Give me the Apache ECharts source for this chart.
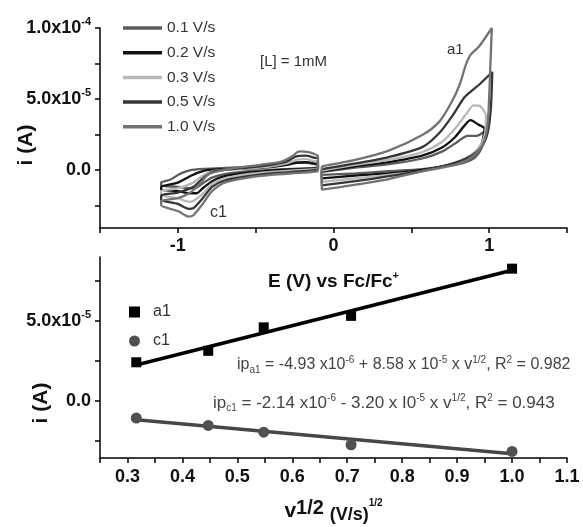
<!DOCTYPE html>
<html><head><meta charset="utf-8">
<script src="https://cdn.jsdelivr.net/npm/echarts@6/dist/echarts.min.js"></script>
<style>html,body{margin:0;padding:0;background:#fff}#c{width:583px;height:527px}</style>
</head><body><div id="c"></div>
<script>
// ---- Top panel: cyclic voltammograms, E (V) vs current (units of 1e-5 A) ----
const scanRates = ['0.1 V/s', '0.2 V/s', '0.3 V/s', '0.5 V/s', '1.0 V/s'];
const cv01Left = [[-0.1,0.15],[-0.2,0.1],[-0.4,0.0],[-0.55,-0.1],[-0.7,-0.3],[-0.78,-0.55],[-0.84,-0.95],[-0.88,-1.25],[-0.92,-1.3],[-1.0,-1.2],[-1.107,-1.1],[-1.107,-0.9],[-1.05,-0.7],[-0.98,-0.25],[-0.91,0.0],[-0.76,0.1],[-0.55,0.2],[-0.4,0.3],[-0.3,0.4],[-0.24,0.5],[-0.18,0.5],[-0.12,0.4],[-0.1,0.35],[-0.1,0.15]];
const cv01Right = [[-0.075,-0.15],[0.14,0.15],[0.355,0.4],[0.57,0.8],[0.7,1.3],[0.8,2.0],[0.86,2.4],[0.92,2.4],[0.97,2.7],[0.95,1.5],[0.9,0.8],[0.8,0.4],[0.57,0.05],[0.355,-0.1],[0.14,-0.25],[-0.075,-0.35],[-0.075,-0.15]];
const cv02Left = [[-0.1,0.1],[-0.2,0.05],[-0.4,-0.05],[-0.55,-0.2],[-0.7,-0.45],[-0.78,-0.8],[-0.84,-1.3],[-0.88,-1.65],[-0.92,-1.65],[-1.0,-1.5],[-1.107,-1.4],[-1.107,-1.2],[-1.0,-0.9],[-0.93,-0.5],[-0.87,-0.2],[-0.8,0.0],[-0.55,0.1],[-0.4,0.2],[-0.3,0.35],[-0.24,0.5],[-0.18,0.55],[-0.12,0.45],[-0.1,0.4],[-0.1,0.1]];
const cv02Right = [[-0.075,-0.1],[0.14,0.25],[0.355,0.55],[0.57,1.0],[0.7,1.6],[0.78,2.3],[0.84,3.1],[0.88,3.5],[0.93,3.2],[0.97,2.9],[0.95,1.8],[0.9,1.0],[0.8,0.5],[0.57,0.0],[0.355,-0.25],[0.14,-0.4],[-0.075,-0.6],[-0.075,-0.1]];
const cv03Left = [[-0.1,0.05],[-0.2,0.0],[-0.4,-0.15],[-0.55,-0.3],[-0.7,-0.6],[-0.78,-1.0],[-0.84,-1.7],[-0.9,-2.2],[-0.93,-2.25],[-1.0,-2.0],[-1.107,-1.75],[-1.107,-1.5],[-1.0,-1.3],[-0.9,-0.9],[-0.84,-0.4],[-0.78,-0.1],[-0.7,0.0],[-0.55,0.1],[-0.4,0.25],[-0.3,0.45],[-0.24,0.7],[-0.18,0.75],[-0.12,0.6],[-0.1,0.55],[-0.1,0.05]];
const cv03Right = [[-0.075,-0.05],[0.14,0.35],[0.355,0.7],[0.57,1.25],[0.7,2.0],[0.78,2.9],[0.85,3.9],[0.9,4.55],[0.94,4.5],[0.98,3.8],[0.97,2.4],[0.93,1.5],[0.85,0.8],[0.75,0.3],[0.57,-0.1],[0.355,-0.35],[0.14,-0.6],[-0.075,-0.85],[-0.075,-0.05]];
const cv05Left = [[-0.1,0.0],[-0.2,-0.1],[-0.4,-0.25],[-0.55,-0.45],[-0.7,-0.75],[-0.78,-1.2],[-0.84,-2.0],[-0.9,-2.7],[-0.93,-2.75],[-1.0,-2.4],[-1.107,-2.1],[-1.107,-1.8],[-1.0,-1.6],[-0.9,-1.2],[-0.84,-0.6],[-0.78,-0.15],[-0.7,0.0],[-0.55,0.15],[-0.4,0.35],[-0.3,0.6],[-0.24,0.95],[-0.18,1.0],[-0.12,0.85],[-0.1,0.8],[-0.1,0.0]];
const cv05Right = [[-0.075,0.05],[0.14,0.45],[0.355,0.9],[0.57,1.6],[0.68,2.6],[0.76,3.75],[0.84,5.1],[0.88,5.5],[0.935,6.0],[1.02,6.9],[1.01,4.2],[0.99,2.6],[0.95,1.6],[0.87,0.9],[0.75,0.4],[0.57,-0.05],[0.355,-0.45],[0.14,-0.8],[-0.075,-1.1],[-0.075,0.05]];
const cv10Left = [[-0.1,-0.1],[-0.2,-0.2],[-0.4,-0.35],[-0.55,-0.55],[-0.7,-0.9],[-0.78,-1.5],[-0.84,-2.4],[-0.9,-3.2],[-0.93,-3.3],[-1.0,-2.9],[-1.107,-2.5],[-1.107,-2.2],[-1.0,-2.0],[-0.92,-1.6],[-0.86,-1.0],[-0.8,-0.3],[-0.7,0.0],[-0.55,0.25],[-0.4,0.45],[-0.33,0.6],[-0.26,1.0],[-0.22,1.3],[-0.16,1.25],[-0.12,1.1],[-0.1,1.0],[-0.1,-0.1]];
const cv10Right = [[-0.075,0.25],[0.14,0.7],[0.355,1.35],[0.57,2.45],[0.68,3.4],[0.76,4.8],[0.81,6.0],[0.85,7.4],[0.88,8.1],[0.935,8.7],[1.017,10.0],[1.005,6.6],[0.99,3.2],[0.96,1.8],[0.9,1.0],[0.8,0.4],[0.57,-0.1],[0.355,-0.65],[0.14,-1.05],[-0.075,-1.4],[-0.075,0.25]];
const topXLabels = [-1, 0, 1];
const topYTicks = [-2.5, 0, 2.5, 5, 7.5, 10];
const topYLabels = [0, 5, 10];

// ---- Bottom panel: peak current vs sqrt(scan rate) ----
const sqrtScanRate = [0.316, 0.447, 0.548, 0.707, 1.0];
const ipA1 = [2.4, 3.12, 4.59, 5.31, 8.27];
const ipC1 = [-1.1, -1.56, -1.98, -2.77, -3.19];
const fitA1 = [[0.316, 2.23], [1.0, 8.17]];
const fitC1 = [[0.316, -1.2], [1.0, -3.33]];
const bottomYTicks = [-2.5, 0, 2.5, 5, 7.5];
const bottomYLabels = [0, 5];

const colors = {'0.1 V/s':'#5c5c5c','0.2 V/s':'#111111','0.3 V/s':'#b8b8b8','0.5 V/s':'#363636','1.0 V/s':'#737373'};
const loops = {'0.1 V/s':[cv01Left,cv01Right],'0.2 V/s':[cv02Left,cv02Right],'0.3 V/s':[cv03Left,cv03Right],'0.5 V/s':[cv05Left,cv05Right],'1.0 V/s':[cv10Left,cv10Right]};

const FONT = 'Liberation Sans, Arial, sans-serif';
const supRich = {
  sup: {fontSize: 11, fontWeight: 'bold', fontFamily: FONT, color: '#111', verticalAlign: 'top', padding: [0,0,12,0]}
};
function sciLabel(v) {
  if (Math.abs(v) < 1e-9) return '0.0';
  const e = Math.floor(Math.log10(Math.abs(v)));
  const m = v / Math.pow(10, e);
  return m.toFixed(1) + 'x10{sup|' + (e - 5) + '}';
}

const series = [];
scanRates.forEach(name => {
  loops[name].forEach(d => {
    series.push({type:'line', name, xAxisIndex:0, yAxisIndex:0, data:d, showSymbol:false, symbol:'none',
      smooth:0.25, lineStyle:{color:colors[name], width:2.3}, itemStyle:{color:colors[name]}, silent:true});
  });
});
series.push({type:'line', name:'fitA1', xAxisIndex:1, yAxisIndex:1, data:fitA1, symbol:'none', lineStyle:{color:'#000', width:3.5}, z:3});
series.push({type:'line', name:'fitC1', xAxisIndex:1, yAxisIndex:1, data:fitC1, symbol:'none', lineStyle:{color:'#474747', width:3.5}, z:3});
series.push({type:'scatter', name:'a1', xAxisIndex:1, yAxisIndex:1, symbol:'rect', symbolSize:10,
  data: sqrtScanRate.map((x,i)=>[x, ipA1[i]]), itemStyle:{color:'#000', opacity:1}, z:4});
series.push({type:'scatter', name:'c1', xAxisIndex:1, yAxisIndex:1, symbol:'circle', symbolSize:11,
  data: sqrtScanRate.map((x,i)=>[x, ipC1[i]]), itemStyle:{color:'#505050', opacity:1}, z:4});

const axisLineStyle = {show:true, onZero:false, lineStyle:{color:'#000', width:1.5}};
const tickStyle = {show:true, length:5, lineStyle:{color:'#000', width:1.5}};
const eqRich = {
  sub:{fontSize:10, fill:'#444', fontFamily:FONT, verticalAlign:'bottom', padding:[10,0,0,0]},
  sup:{fontSize:10, fill:'#444', fontFamily:FONT, verticalAlign:'top', padding:[0,0,10,0]}
};

const option = {
  animation:false,
  backgroundColor:'#fff',
  legend:[
    {data:scanRates, orient:'vertical', left:118, top:15, itemWidth:39, itemHeight:3.5, itemGap:8.7, icon:'rect',
     textStyle:{fontFamily:FONT, fontSize:15.5, color:'#333', lineHeight:14}, selectedMode:false},
    {data:['a1','c1'], orient:'vertical', left:124, top:299, itemWidth:11, itemHeight:11, itemGap:13,
     textStyle:{fontFamily:FONT, fontSize:16, color:'#333', padding:[0,0,0,8]}, selectedMode:false}
  ],
  grid:[
    {left:100, top:28, width:467, height:200},
    {left:100, top:257, width:467, height:201}
  ],
  xAxis:[
    {type:'value', gridIndex:0, min:-1.5, max:1.5, interval:0.5,
     axisLine:axisLineStyle, axisTick:tickStyle, splitLine:{show:false},
     axisLabel:{margin:9, fontFamily:FONT, fontSize:18, fontWeight:'bold', color:'#111',
       formatter: v => topXLabels.some(t => Math.abs(t - v) < 1e-6) ? String(Math.round(v)) : ''},
     name:'E (V) vs Fc/Fc{sup|+}', nameLocation:'middle', nameGap:42,
     nameTextStyle:{fontFamily:FONT, fontSize:19, fontWeight:'bold', color:'#111', rich:supRich}},
    {type:'value', gridIndex:1, min:0.25, max:1.1, interval:0.05,
     axisLine:axisLineStyle, axisTick:tickStyle, splitLine:{show:false},
     axisLabel:{margin:10, fontFamily:FONT, fontSize:18, fontWeight:'bold', color:'#111', showMinLabel:true,
       formatter: v => { const t = Math.round(v*100); return (t % 10 === 0) ? (t/100).toFixed(1) : ''; }},
     name:'v{big|1/2} {mid|(V/s)}{sup|1/2}', nameLocation:'middle', nameGap:40,
     nameTextStyle:{fontFamily:FONT, fontSize:21, fontWeight:'bold', color:'#111',
       rich:{big:{fontSize:20, fontWeight:'bold', fontFamily:FONT, color:'#111', verticalAlign:'top', padding:[0,0,6,0]},
             mid:{fontSize:18, fontWeight:'bold', fontFamily:FONT, color:'#111', padding:[8,0,0,0]},
             sup:{fontSize:10, fontWeight:'bold', fontFamily:FONT, color:'#111', verticalAlign:'top', padding:[0,0,6,0]}}}}
  ],
  yAxis:[
    {type:'value', gridIndex:0, min:-4.1, max:10,
     axisLine:axisLineStyle, axisTick:Object.assign({customValues:topYTicks}, tickStyle), splitLine:{show:false},
     axisLabel:{customValues:topYLabels, margin:9, fontFamily:FONT, fontSize:18, fontWeight:'bold', color:'#111',
       formatter: v => sciLabel(v), rich:supRich}},
    {type:'value', gridIndex:1, min:-3.6, max:9,
     axisLine:axisLineStyle, axisTick:Object.assign({customValues:bottomYTicks}, tickStyle), splitLine:{show:false},
     axisLabel:{customValues:bottomYLabels, margin:9, fontFamily:FONT, fontSize:18, fontWeight:'bold', color:'#111',
       formatter: v => sciLabel(v), rich:supRich}}
  ],
  graphic:[
    {type:'text', x:26, y:145, rotation:Math.PI/2, style:{text:'i (A)', font:'bold 21px '+FONT, fill:'#111', align:'center', verticalAlign:'middle'}},
    {type:'text', x:41, y:403, rotation:Math.PI/2, style:{text:'i (A)', font:'bold 21px '+FONT, fill:'#111', align:'center', verticalAlign:'middle'}},
    {type:'text', x:260, y:62, style:{text:'[L] = 1mM', font:'15px '+FONT, fill:'#333', verticalAlign:'middle'}},
    {type:'text', x:447, y:50, style:{text:'a1', font:'15px '+FONT, fill:'#333', verticalAlign:'middle'}},
    {type:'text', x:210, y:213, style:{text:'c1', font:'16px '+FONT, fill:'#333', verticalAlign:'middle'}},
    {type:'text', x:237, y:365, style:{text:'ip{sub|a1} = -4.93 x10{sup|-6} + 8.58 x 10{sup|-5} x v{sup|1/2}, R{sup|2} = 0.982',
      font:'16px '+FONT, fill:'#444', verticalAlign:'middle', rich:eqRich}},
    {type:'text', x:213, y:403, style:{text:'ip{sub|c1} = -2.14 x10{sup|-6} - 3.20 x I0{sup|-5} x v{sup|1/2}, R{sup|2} = 0.943',
      font:'17px '+FONT, fill:'#444', verticalAlign:'middle', rich:eqRich}}
  ],
  series
};
const chart = echarts.init(document.getElementById('c'), null, {renderer:'canvas'});
chart.setOption(option);
</script></body></html>
